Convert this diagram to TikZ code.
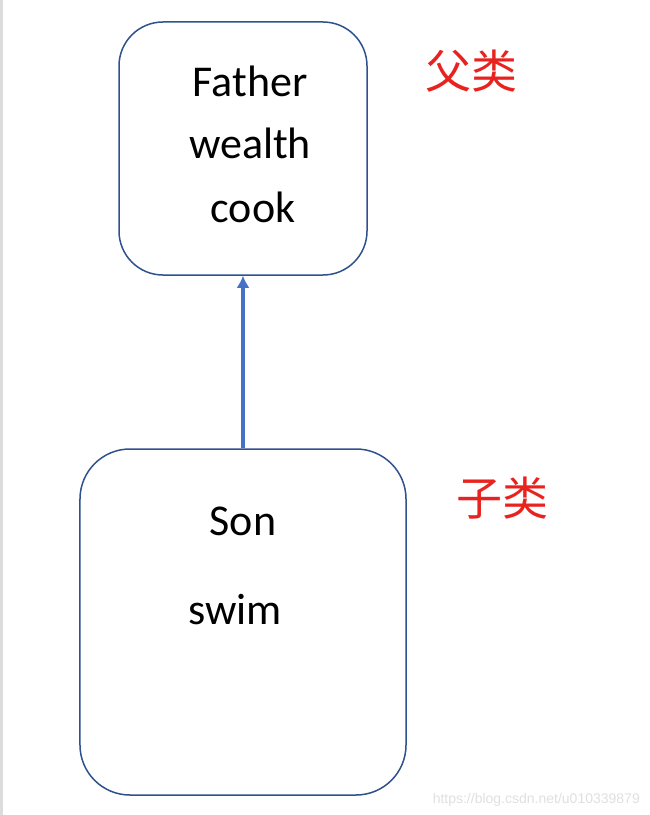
\documentclass[tikz,border=0pt]{standalone}
\usepackage{fontspec}
\setmainfont{Carlito}
\newfontfamily\cjk{Noto Sans CJK SC}
\newfontfamily\wmfont{Liberation Sans}
\usetikzlibrary{arrows.meta}
\definecolor{boxblue}{HTML}{2F528F}
\definecolor{arrowblue}{HTML}{4472C4}
\definecolor{labelred}{HTML}{E8231F}
\definecolor{stripgray}{HTML}{DCDCDC}
\begin{document}
\begin{tikzpicture}[x=1bp,y=-1bp,
  classbox/.style={draw=boxblue,line width=1.5bp,rounded corners=44bp,inner sep=0pt,fill=white},
  member/.style={anchor=base,inner sep=0pt,font=\fontsize{44bp}{50bp}\selectfont,text=black},
  cnlabel/.style={inner sep=0pt,font=\cjk\fontsize{46bp}{50bp}\selectfont,text=labelred},
  inherit/.style={draw=arrowblue,line width=3.5bp,-{Latex[length=12bp,width=13bp]}}]
\useasboundingbox (0,0) rectangle (650,815);
\fill[white] (0,0) rectangle (650,815);
\fill[stripgray] (0,0) rectangle (3,815);
\node[classbox,minimum width=248bp,minimum height=253bp] (father) at (243,148.5) {};
\node[classbox,minimum width=326bp,minimum height=346bp,rounded corners=50bp] (son) at (243,622) {};
\node[member] (tfather) at (250,96) {Father};
\node[member] (twealth) at (250,158) {wealth};
\node[member] (tcook) at (253,222) {cook};
\node[member] (tson) at (243,535) {Son};
\node[member] (tswim) at (235,624) {swim};
\node[cnlabel] (lfather) at (471,71) {父类};
\node[cnlabel] (lson) at (502,498) {子类};
\draw[inherit] (son.north) -- (father.south);
\node[anchor=base east,inner sep=0pt,font=\wmfont\fontsize{14bp}{16bp}\selectfont,text=black!12] (wm) at (640,803) {https://blog.csdn.net/u010339879};
\end{tikzpicture}
\end{document}
